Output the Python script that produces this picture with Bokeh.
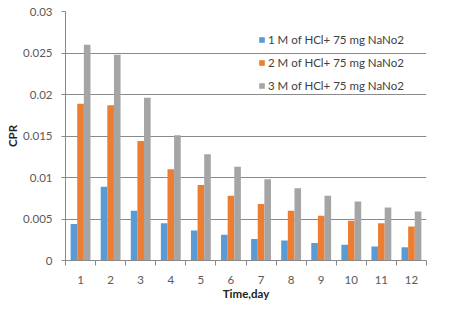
from bokeh.plotting import figure
from bokeh.models import ColumnDataSource, FixedTicker, CustomJSTickFormatter, Range1d, Legend, LegendItem, BoxAnnotation
from bokeh.transform import dodge
from bokeh.embed import file_html
from bokeh.resources import INLINE

days = [1, 2, 3, 4, 5, 6, 7, 8, 9, 10, 11, 12]
series_names = ["1 M of HCl+ 75 mg NaNo2", "2 M of HCl+ 75 mg NaNo2", "3 M of HCl+ 75 mg NaNo2"]
cpr_1m = [0.0044, 0.0089, 0.0060, 0.0045, 0.0036, 0.0031, 0.0026, 0.0024, 0.0021, 0.0019, 0.0017, 0.0016]
cpr_2m = [0.0189, 0.0187, 0.0144, 0.0110, 0.0091, 0.0078, 0.0068, 0.0060, 0.0054, 0.0048, 0.0045, 0.0041]
cpr_3m = [0.0260, 0.0248, 0.0196, 0.0151, 0.0128, 0.0113, 0.0098, 0.0087, 0.0078, 0.0071, 0.0064, 0.0059]
y_ticks = [0, 0.005, 0.01, 0.015, 0.02, 0.025, 0.03]

colors = ["#5B9BD5", "#ED7D31", "#A5A5A5"]
FONT = "Lato"
W, H = 439, 304

src = ColumnDataSource(dict(day=days, s1=cpr_1m, s2=cpr_2m, s3=cpr_3m))

p = figure(width=W, height=H, output_backend="svg", toolbar_location=None,
           x_range=Range1d(0.5, 12.5), y_range=Range1d(0, 0.03),
           min_border_left=65, min_border_right=13, min_border_top=11, min_border_bottom=44)
p.outline_line_color = None
p.background_fill_color = "white"
p.border_fill_color = "white"

# chart-area border around the whole canvas
p.add_layout(BoxAnnotation(left=1, right=W - 1, top=1, bottom=H - 1,
                           left_units="canvas", right_units="canvas",
                           top_units="canvas", bottom_units="canvas",
                           fill_alpha=0, line_color="#b4b4b4", line_width=1.5, level="overlay"))

bw = 0.22
r1 = p.vbar(x=dodge("day", -bw, range=p.x_range), top="s1", width=bw, source=src, color=colors[0], line_color=None)
r2 = p.vbar(x=dodge("day", 0, range=p.x_range), top="s2", width=bw, source=src, color=colors[1], line_color=None)
r3 = p.vbar(x=dodge("day", bw, range=p.x_range), top="s3", width=bw, source=src, color=colors[2], line_color=None)

# x axis
p.xaxis.ticker = FixedTicker(ticks=days, minor_ticks=[d - 0.5 for d in days] + [days[-1] + 0.5])
p.xaxis.major_tick_line_color = None
p.xaxis.major_tick_out = 0
p.xaxis.major_tick_in = 0
p.xaxis.minor_tick_out = 5
p.xaxis.minor_tick_in = 0
p.xaxis.minor_tick_line_color = "#888888"
p.xaxis.axis_line_color = "#888888"
p.xaxis.major_label_standoff = 10
p.xaxis.axis_label = "Time,day"
p.xaxis.axis_label_standoff = 0
p.xgrid.grid_line_color = None

# y axis
p.yaxis.ticker = FixedTicker(ticks=y_ticks, minor_ticks=[])
p.yaxis.formatter = CustomJSTickFormatter(code="return String(Number(tick.toFixed(4)));")
p.yaxis.major_tick_out = 4
p.yaxis.major_tick_in = 0
p.yaxis.major_tick_line_color = "#888888"
p.yaxis.axis_line_color = "#888888"
p.yaxis.major_label_standoff = 9
p.yaxis.axis_label = "CPR"
p.yaxis.axis_label_standoff = 1
p.ygrid.grid_line_color = "#8a8a8a"
p.ygrid.ticker = FixedTicker(ticks=y_ticks)

for ax in (p.xaxis, p.yaxis):
    ax.major_label_text_font = FONT
    ax.major_label_text_font_size = "11.5px"
    ax.major_label_text_color = "#595959"
    ax.axis_label_text_font = FONT
    ax.axis_label_text_font_size = "11.5px"
    ax.axis_label_text_font_style = "bold"
    ax.axis_label_text_color = "#222222"

legend = Legend(items=[LegendItem(label=series_names[0], renderers=[r1]),
                       LegendItem(label=series_names[1], renderers=[r2]),
                       LegendItem(label=series_names[2], renderers=[r3])],
                location=(193, 165))
legend.background_fill_alpha = 0
legend.border_line_color = None
legend.label_text_font = FONT
legend.label_text_font_size = "11.5px"
legend.label_text_color = "#404040"
legend.glyph_width = 7
legend.glyph_height = 7
legend.label_standoff = 3
legend.spacing = 3
legend.label_height = 20
legend.padding = 2
legend.margin = 0
p.add_layout(legend)

open("out.html", "w").write(file_html(p, INLINE))
